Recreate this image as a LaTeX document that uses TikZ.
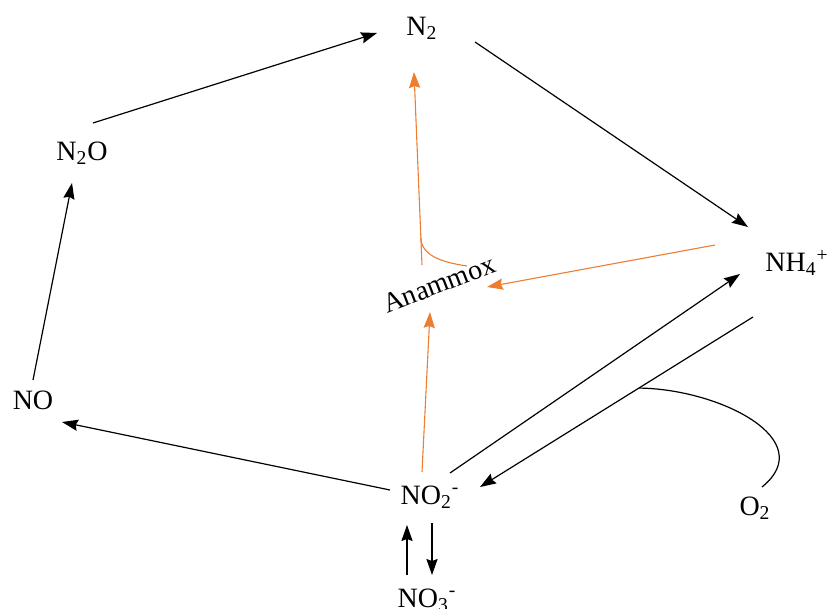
\documentclass[tikz,border=0pt]{standalone}
\usepackage{fontspec}
\setmainfont{Liberation Serif}
\usetikzlibrary{arrows.meta}
\definecolor{anamorange}{HTML}{ED7D31}

\begin{document}
\begin{tikzpicture}[
    >={Stealth[length=8pt,width=5.6pt,inset=1pt]},
    x=0.5pt,
    y=-0.5pt,
    line width=0.6pt,
    every node/.style={font=\fontsize{14}{16}\selectfont},
    anam/.style={draw=anamorange, line width=0.55pt}
]
\useasboundingbox (0,0) rectangle (829,609);

% nitrogen species
\node (n2)  at (422,28)  {N\textsubscript{2}};
\node (n2o) at (82,153)  {N\textsubscript{2}O};
\node (no)  at (33,400)  {NO};
\node (no2) at (430,497) {NO\textsubscript{2}\textsuperscript{-}};
\node (no3) at (427,600) {NO\textsubscript{3}\textsuperscript{-}};
\node (nh4) at (797,263) {NH\textsubscript{4}\textsuperscript{+}};
\node (o2)  at (755,508) {O\textsubscript{2}};
\node[rotate=21] (anammox) at (439,284) {Anammox};

% denitrification
\draw[->] ([shift={(0,-20)}]no.center) -- ([shift={(-10,30)}]n2o.center);
\draw[->] ([shift={(11,-30)}]n2o.center) -- ([shift={(-45,5)}]n2.center);
\draw[->] ([shift={(-40,-7)}]no2.center) -- ([shift={(29,22)}]no.center);

% fixation
\draw[->] ([shift={(53,14)}]n2.center) -- ([shift={(-49,-36)}]nh4.center);

% NO2- <-> NH4+
\draw[->] ([shift={(20,-24)}]no2.center) -- ([shift={(-57,11)}]nh4.center);
\draw[->] ([shift={(-44,54)}]nh4.center) -- coordinate[pos=0.418] (o2in) ([shift={(50,-10)}]no2.center);
\draw (o2in) .. controls (720,389) and (820,440) .. ([shift={(7,-21)}]o2.center);

% NO2- <-> NO3-
\draw[->] ([shift={(-20,-25)}]no3.center) -- ([shift={(-23,28)}]no2.center);
\draw[->] ([shift={(2,26)}]no2.center) -- ([shift={(5,-25)}]no3.center);

% anammox
\draw[anam,->] ([shift={(-82,-18)}]nh4.center) -- ([shift={(48,3)}]anammox.center);
\draw[anam,->] ([shift={(-8,-25)}]no2.center) -- ([shift={(-9,28)}]anammox.center);
\draw[anam,->] ([shift={(-17,-19)}]anammox.center) -- coordinate[pos=0.145] (anout) ([shift={(-8,44)}]n2.center);
\draw[anam] (anout) .. controls (421,255) and (440,262) .. (467,266);

\end{tikzpicture}
\end{document}
